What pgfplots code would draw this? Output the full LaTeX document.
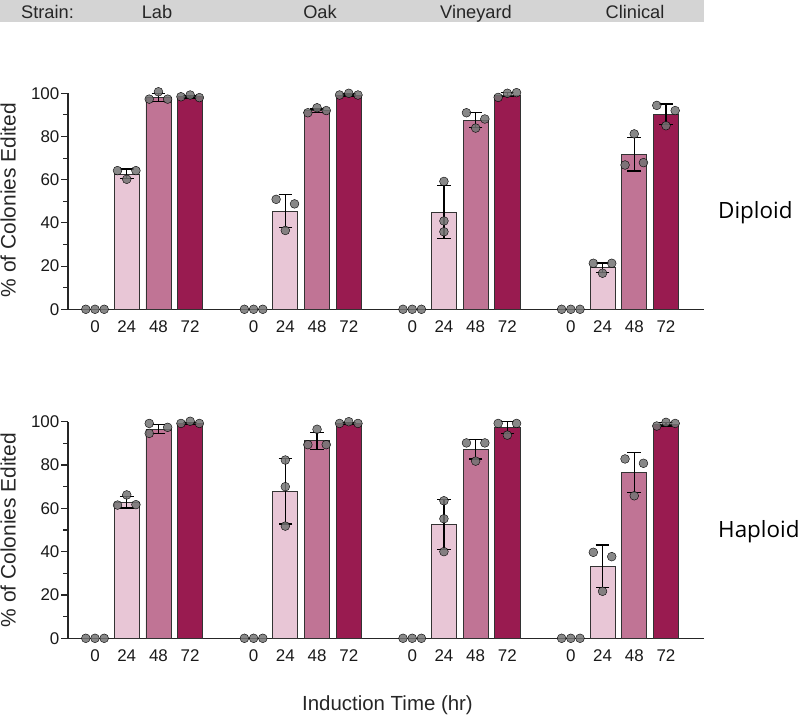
\documentclass[border=0pt]{standalone}
\usepackage{pgfplots}
\pgfplotsset{compat=1.18}
\usepackage{fontspec}
\setmainfont{Liberation Sans}
\newfontfamily\osans{Open Sans}
\definecolor{c24}{HTML}{E8C6D6}
\definecolor{c48}{HTML}{C07495}
\definecolor{c72}{HTML}{991B50}
\definecolor{band}{HTML}{D4D4D4}
\pgfplotsset{
  rowaxis/.style={
    anchor=origin, scale only axis, width=636bp,
    xmin=-0.85, xmax=19.2, ymin=0, ymax=100, clip=false,
    axis x line*=bottom, axis y line*=left,
    axis line style={-, line width=1.2bp, black!85},
    ytick={0,20,40,60,80,100}, minor ytick={10,30,50,70,90},
    tick align=outside, major tick length=7bp, minor tick length=5bp,
    ytick style={line width=1.1bp, black!85},
    xtick={0,1,2,3,5,6,7,8,10,11,12,13,15,16,17,18},
    xticklabels={0,24,48,72,0,24,48,72,0,24,48,72,0,24,48,72},
    xtick style={draw opacity=0},
    /pgf/number format/assume math mode=true,
    tick label style={font=\fontsize{17}{17}\selectfont, black!90},
    yticklabel style={inner xsep=1.5bp},
    xticklabel style={yshift=-1bp},
  },
  barst/.style={ybar, bar shift=0pt, bar width=0.79, draw=black!80, line width=0.8bp},
  dotst/.style={only marks, mark=*, mark size=4.4bp, mark options={draw=none, fill=black!55, fill opacity=0.85}},
  errst/.style={draw=none, mark=none, error bars/.cd, y dir=both, y explicit,
     error bar style={draw=black, line width=1.4bp},
     error mark=-,
     error mark options={rotate=90, draw=black, mark size=6.8bp, line width=1.4bp}},
}
\begin{document}
\begin{tikzpicture}
\useasboundingbox (0,0) rectangle (800bp,717bp);
% strain band
\fill[band] (0,695bp) rectangle (704bp,717bp);
\begin{scope}[every node/.style={font=\fontsize{18.3}{18.3}\selectfont, text=black!85, inner sep=0pt}]
\node[anchor=base west] at (21bp,698.7bp) {Strain:};
\node[anchor=base] at (157bp,698.7bp) {Lab};
\node[anchor=base] at (320bp,698.7bp) {Oak};
\node[anchor=base] at (476bp,698.7bp) {Vineyard};
\node[anchor=base] at (635bp,698.7bp) {Clinical};
\end{scope}

% ---------------- Diploid ----------------
\begin{axis}[rowaxis, at={(95bp,407.7bp)}, height=216bp]
\addplot[barst, fill=c24] table {
x y
1 62.5
6 45.5
11 45.0
16 19.3
};
\addplot[barst, fill=c48] table {
x y
2 98.0
7 92.0
12 87.6
17 71.8
};
\addplot[barst, fill=c72] table {
x y
3 98.4
8 99.2
13 99.2
18 90.3
};
\addplot[dotst] table {
x y
-0.29 0
0 0
0.29 0
0.71 64.2
1.29 64.2
1.0 60.2
1.71 97.3
2.0 100.7
2.29 97.3
2.71 98.4
3.0 99.2
3.29 98.0
4.71 0
5 0
5.29 0
5.71 50.9
6.29 48.8
6.0 36.5
6.71 91.0
7.0 93.3
7.29 92.0
7.71 99.2
8.0 100
8.29 99.2
9.71 0
10 0
10.29 0
11 59.2
11 40.9
11 35.9
11.71 91.0
12.29 88.1
12 83.9
12.71 98.1
13 100
13.29 100.3
14.71 0
15 0
15.29 0
15.71 21.3
16.29 21.3
16 16.7
17 81.2
16.71 66.8
17.29 67.9
17.71 94.4
18.29 92.0
18 85.0
};
\addplot[errst] table[x=x, y=y, y error plus=ep, y error minus=em] {
x y ep em
1 62.5 2.5 1.9
2 98.0 1.8 1.9
3 98.4 0.6 0.6
6 45.5 7.6 7.5
7 92.0 0.8 0.8
8 99.2 0.5 0.5
11 45.0 12.2 12.2
12 87.6 3.4 3.3
13 99.5 1.0 1.0
16 19.3 2.2 2.2
17 71.8 7.8 7.8
18 90.3 4.8 4.8
};
\end{axis}

% ---------------- Haploid ----------------
\begin{axis}[rowaxis, at={(95bp,78.7bp)}, height=216.6bp]
\addplot[barst, fill=c24] table {
x y
1 62.8
6 67.8
11 52.6
16 33.2
};
\addplot[barst, fill=c48] table {
x y
2 96.6
7 91.2
12 87.2
17 76.5
};
\addplot[barst, fill=c72] table {
x y
3 99.2
8 99.2
13 97.2
18 98.8
};
\addplot[dotst] table {
x y
-0.29 0
0 0
0.29 0
0.71 61.5
1.0 66.2
1.29 61.7
1.71 99.2
1.71 94.6
2.29 97.4
2.71 99.2
3.0 100.2
3.29 99.2
4.71 0
5 0
5.29 0
6 82.3
6 70.0
6 51.8
6.71 89.4
7.0 96.5
7.29 89.4
7.71 99.2
8 100
8.29 99.2
9.71 0
10 0
10.29 0
11 63.5
11 55.2
11 40.0
11.71 90.2
12.29 90.2
12 81.8
12.71 99.2
13.29 99.2
13 93.8
14.71 0
15 0
15.29 0
15.71 39.7
16.29 37.7
16 21.7
16.71 82.8
17.29 80.8
17 65.8
17.71 98.0
18 99.7
18.29 99.2
};
\addplot[errst] table[x=x, y=y, y error plus=ep, y error minus=em] {
x y ep em
1 62.8 2.7 2.7
2 96.6 2.0 2.0
3 99.2 0.5 0.5
6 67.8 15.1 15.1
7 91.2 3.9 3.9
8 99.2 0.5 0.5
11 52.6 11.6 11.6
12 87.2 4.5 4.5
13 97.2 2.8 2.7
16 33.2 9.8 9.8
17 76.5 9.3 9.3
18 98.8 0.8 0.8
};
\end{axis}

% y labels
\node[rotate=90, anchor=base, font=\fontsize{21}{21}\selectfont, text=black!85, inner sep=0pt] at (15.5bp,517bp) {\% of Colonies Edited};
\node[rotate=90, anchor=base, font=\fontsize{21}{21}\selectfont, text=black!85, inner sep=0pt] at (15.5bp,187bp) {\% of Colonies Edited};
% row labels
\node[anchor=base west, font=\osans\fontsize{22.5}{22.5}\selectfont, inner sep=0pt] at (718bp,498bp) {Diploid};
\node[anchor=base west, font=\osans\fontsize{22.5}{22.5}\selectfont, inner sep=0pt] at (718bp,179bp) {Haploid};
% x label
\node[anchor=base, font=\fontsize{20.5}{20.5}\selectfont, text=black!85, inner sep=0pt] at (387.5bp,6.3bp) {Induction Time (hr)};
\end{tikzpicture}
\end{document}
